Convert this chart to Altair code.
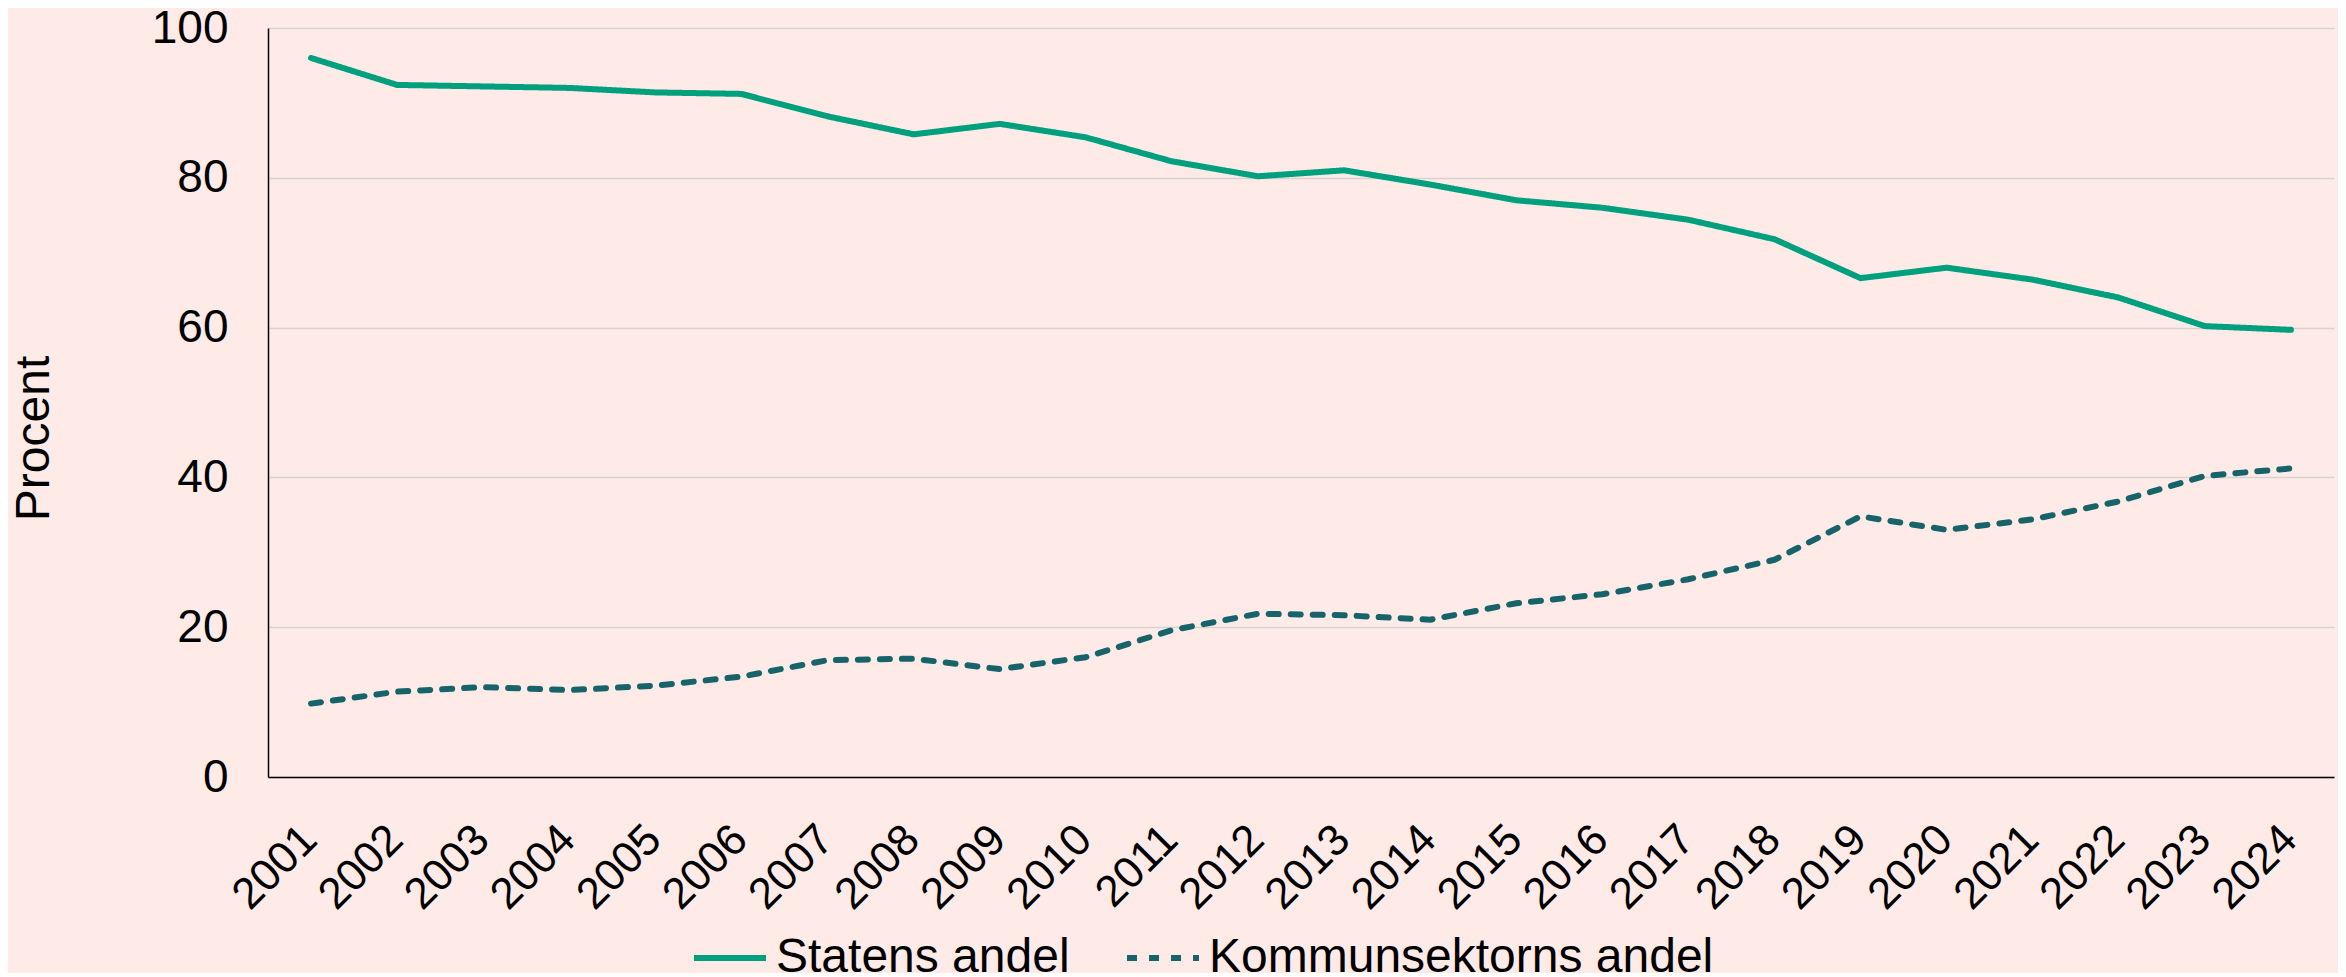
import altair as alt
import pandas as pd

years = [str(y) for y in range(2001, 2025)]
statens = [96.0, 92.4, 92.2, 92.0, 91.4, 91.2, 88.2, 85.8, 87.2, 85.4, 82.2, 80.2,
           81.0, 79.1, 77.0, 76.0, 74.4, 71.8, 66.6, 68.0, 66.4, 64.0, 60.2, 59.7]
kommun = [9.8, 11.4, 12.0, 11.6, 12.2, 13.4, 15.6, 15.8, 14.4, 16.0, 19.6, 21.8,
          21.6, 21.0, 23.2, 24.4, 26.4, 29.0, 34.8, 33.0, 34.4, 36.8, 40.2, 41.2]
series = ["Statens andel", "Kommunsektorns andel"]
colors = ["#00A07F", "#17636A"]
y_ticks = [0, 20, 40, 60, 80, 100]

rows = []
for y, s, k in zip(years, statens, kommun):
    rows.append({"År": y, "Serie": series[0], "Procent": s})
    rows.append({"År": y, "Serie": series[1], "Procent": k})
df = pd.DataFrame(rows)

FONT = "Liberation Sans"

legend = alt.Legend(
    title=None, orient="none", legendX=423, legendY=891, direction="horizontal",
    labelFont=FONT, labelFontSize=48, labelColor="black", labelLimit=1000,
    symbolType="stroke", symbolSize=5184, symbolStrokeWidth=6,
    columnPadding=45, labelOffset=7,
)

chart = alt.Chart(df).mark_line(strokeWidth=6, strokeCap="round", strokeJoin="round").encode(
    x=alt.X("År:O", title=None, sort=years,
            axis=alt.Axis(labelAngle=-45, labelFont=FONT, labelFontSize=44, labelColor="black",
                          ticks=False, domainColor="black", domainWidth=1.5, labelPadding=40,
                          labelOffset=-17, grid=False)),
    y=alt.Y("Procent:Q", scale=alt.Scale(domain=[0, 100]),
            axis=alt.Axis(values=y_ticks, title="Procent", labelFont=FONT, labelFontSize=46,
                          labelColor="black", ticks=False, domainColor="black", domainWidth=1.5,
                          labelPadding=40, gridColor="#D9D2D0", gridWidth=1.5,
                          titleFont=FONT, titleFontSize=48, titleFontWeight="normal",
                          titleColor="black", titleX=-220, titleY=410,
                          titleBaseline="alphabetic")),
    color=alt.Color("Serie:N", sort=series, scale=alt.Scale(domain=series, range=colors), legend=legend),
    strokeDash=alt.StrokeDash("Serie:N", sort=series,
                              scale=alt.Scale(domain=series, range=[[1, 0], [10, 12]]), legend=legend),
).properties(
    width=2066, height=749,
    autosize=alt.AutoSizeParams(type="none"),
    padding={"left": 260, "top": 20, "right": 4, "bottom": 196},
    background="#FEEBE8",
).configure_view(stroke=None)

chart.save("out.html", embed_options={"renderer": "svg", "actions": False})
